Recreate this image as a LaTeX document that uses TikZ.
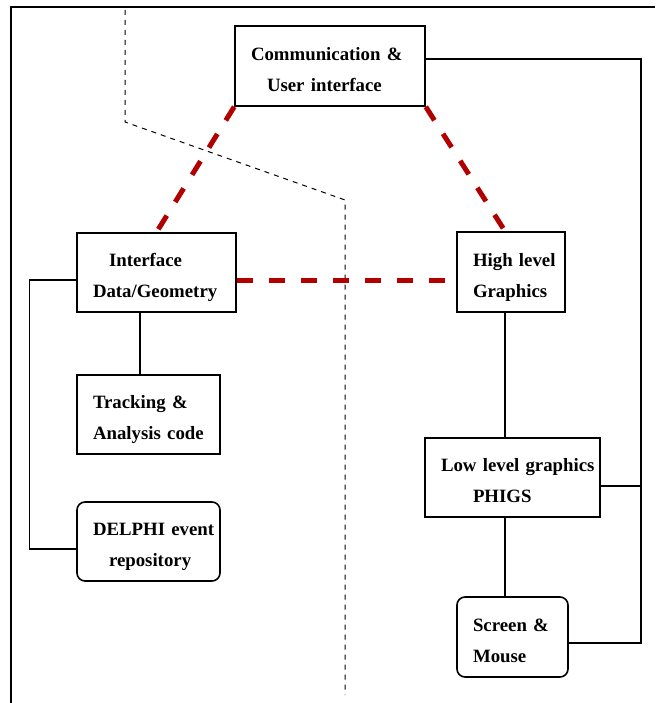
\documentclass[tikz,border=0pt]{standalone}
\usepackage{fontspec}
\setmainfont{Liberation Serif}
\definecolor{linkred}{RGB}{178,0,0}
\newcommand{\ind}[1]{\hspace*{#1pt}}
\begin{document}
\begin{tikzpicture}[x=1pt,y=-1pt,
  box/.style={draw, line width=1.6pt, inner xsep=0pt, inner ysep=0pt, align=left,
    font=\bfseries\fontsize{18.8}{31}\selectfont,
    execute at begin node={\rule{0pt}{25.5pt}},
    execute at end node={\rule[-6pt]{0pt}{6pt}}},
  rbox/.style={box, rounded corners=8pt},
  link/.style={line width=1.4pt},
  redlink/.style={draw=linkred, line width=5pt, dash pattern=on 16pt off 16pt}]
\useasboundingbox (0,0) rectangle (655,703);
\draw[line width=2pt] (655,7) -- (11,7) -- (11,703);
\draw[line width=1pt, dash pattern=on 5pt off 5pt] (125,10) -- (125,122) -- (345,200) -- (345,695);

\node[box, text width=190pt, minimum height=80pt] (comm) at (330,66){\ind{16}Communication \&\\\ind{32}User interface};
\node[box, text width=159pt, minimum height=79pt] (iface) at (156.5,272.5){\ind{32}Interface\\\ind{16}Data/Geometry};
\node[box, text width=143pt, minimum height=79pt] (track) at (148.5,414.5){\ind{16}Tracking \&\\\ind{16}Analysis code};
\node[rbox, text width=143pt, minimum height=79pt] (delphi) at (148.5,541.5){\ind{16}DELPHI event\\\ind{32}repository};
\node[box, text width=108pt, minimum height=80pt] (high) at (511,272){\ind{16}High level\\\ind{16}Graphics};
\node[box, text width=175pt, minimum height=79pt] (low) at (512.5,477.5){\ind{16}Low level graphics\\\ind{48}PHIGS};
\node[rbox, text width=111pt, minimum height=80pt] (screen) at (512.5,637){\ind{16}Screen \&\\\ind{16}Mouse};

\draw[redlink] (comm.south west) -- (iface.north);
\draw[redlink] (comm.south east) -- ([xshift=-6pt]high.north);
\draw[redlink] ([yshift=-7.5pt]iface.east) -- ([yshift=-8pt]high.west);

\draw[link] ([xshift=-8.5pt]track.north) -- ([xshift=-8.5pt]track.north |- iface.south);
\draw[link] ([yshift=-7.5pt]iface.west) -- ++(-47,0) |- ([yshift=-7.5pt]delphi.west);
\draw[link] ([xshift=-6pt]high.south) -- ([xshift=-6pt]high.south |- low.north);
\draw[link] ([xshift=-7.5pt]low.south) -- ([xshift=-7.5pt]low.south |- screen.north);
\draw[link] ([yshift=7pt]comm.east) -- ++(215,0) |- ([yshift=-6pt]screen.east);
\draw[link] ([yshift=-8.5pt]low.east) -- ++(40,0);

\end{tikzpicture}
\end{document}
